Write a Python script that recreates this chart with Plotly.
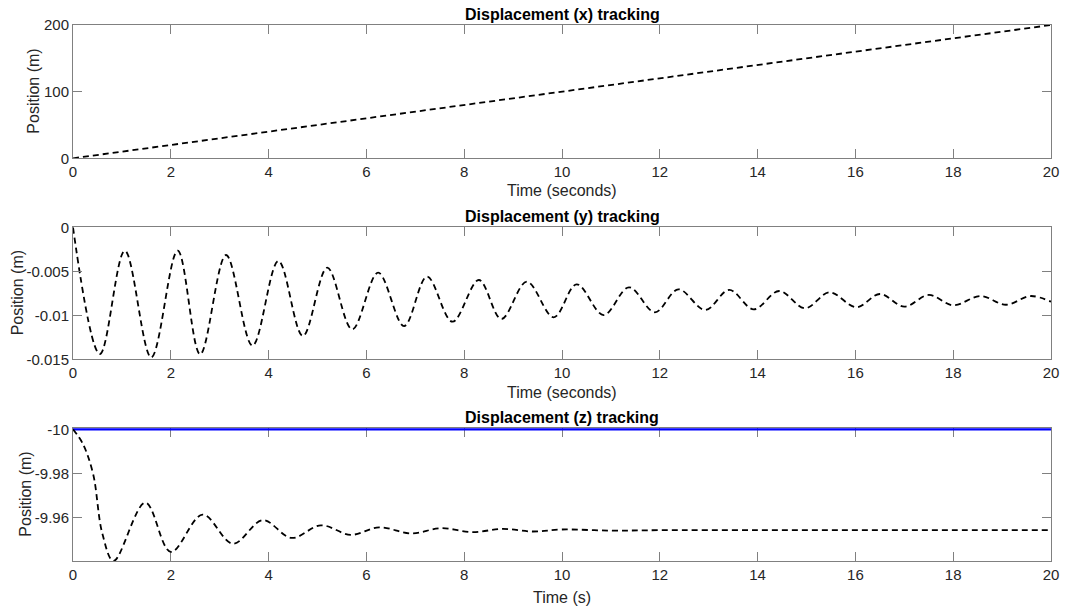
import plotly.graph_objects as go

# ---- data ----
# x displacement: straight ramp
x_time = [0, 20]
x_pos = [0, 200]

# y displacement: damped oscillation (start, extrema, end)
y_time = [0, 0.55, 1.06, 1.6, 2.14, 2.6, 3.13, 3.67, 4.2, 4.7, 5.2, 5.71,
          6.24, 6.77, 7.24, 7.76, 8.3, 8.76, 9.28, 9.83, 10.3, 10.85, 11.37,
          11.9, 12.38, 12.93, 13.42, 13.92, 14.44, 14.97, 15.47, 16.02, 16.5,
          17.0, 17.5, 18.0, 18.56, 19.08, 19.58, 20]
y_pos = [0, -0.0144, -0.00266, -0.01478, -0.00266, -0.01443, -0.00315, -0.01345,
         -0.00383, -0.01235, -0.00459, -0.0116, -0.00516, -0.01122, -0.00561,
         -0.01073, -0.00599, -0.01042, -0.00618, -0.01023, -0.00648, -0.00997,
         -0.00682, -0.00966, -0.00705, -0.0094, -0.00711, -0.00932, -0.00724,
         -0.0092, -0.00739, -0.00909, -0.00758, -0.00902, -0.00769, -0.00886,
         -0.00781, -0.0088, -0.00781, -0.00845]

# z displacement: reference and response
z_ref_time = [0, 20]
z_ref_pos = [-10, -10]
z_time = [0, 0.2, 0.41, 0.6, 0.83, 1.48, 2.0, 2.65, 3.27, 3.88, 4.47, 5.07,
          5.68, 6.26, 6.92, 7.52, 8.18, 8.78, 9.39, 10.0, 11.0, 12.0, 14.0,
          16.0, 18.0, 20.0]
z_pos = [-10, -9.9935, -9.98, -9.953, -9.9406, -9.9669, -9.9447, -9.9615,
         -9.9484, -9.959, -9.951, -9.9567, -9.9524, -9.9558, -9.953, -9.9554,
         -9.9536, -9.9551, -9.9539, -9.9548, -9.9543, -9.9545, -9.9545,
         -9.9545, -9.9545, -9.9545]

x_ticks = list(range(0, 21, 2))

titles = ["Displacement (x) tracking", "Displacement (y) tracking",
          "Displacement (z) tracking"]
x_titles = ["Time (seconds)", "Time (seconds)", "Time (s)"]
y_title = "Position (m)"

# ---- figure ----
W, H = 1065, 610
ML, MR = 73, 14
PW = W - ML - MR
FONT = "Liberation Sans, Arial, sans-serif"
AX = "#808080"
TXT = "#262626"

# pixel extents of each panel (top, bottom)
panels = [(25, 158.3), (227.3, 359.3), (428.3, 561)]
doms = [[1 - b / H, 1 - t / H] for t, b in panels]
# pixel placement of the axis titles
ytitle_px = [34, 17, 26]
xtitle_py = [190, 392, 597]

dash_style = dict(color="black", width=1.8, dash="6px,4px")

fig = go.Figure()
fig.add_trace(go.Scatter(x=x_time, y=x_pos, mode="lines", line=dash_style,
                         xaxis="x", yaxis="y"))
fig.add_trace(go.Scatter(x=y_time, y=y_pos, mode="lines", line=dash_style,
                         line_shape="spline", xaxis="x2", yaxis="y2"))
fig.add_trace(go.Scatter(x=z_ref_time, y=z_ref_pos, mode="lines",
                         line=dict(color="#0000FF", width=2.5),
                         xaxis="x3", yaxis="y3"))
fig.add_trace(go.Scatter(x=z_time, y=z_pos, mode="lines", line=dash_style,
                         line_shape="spline", xaxis="x3", yaxis="y3"))

common_axis = dict(
    showline=True, linecolor=AX, linewidth=1, mirror="ticks",
    ticks="inside", ticklen=9, tickwidth=1, tickcolor=AX,
    showgrid=False, zeroline=False, automargin=False,
    tickfont=dict(family=FONT, size=15, color=TXT),
)
axis_title_font = dict(family=FONT, size=16, color=TXT)

# the z axis runs downward, with a sliver of headroom so the reference line shows
y_ranges = [[0, 200], [-0.015, 0], [-9.9406, -10.00045]]
y_tickvals = [[0, 100, 200], [-0.015, -0.01, -0.005, 0], [-10, -9.98, -9.96]]
y_ticktext = [["0", "100", "200"], ["-0.015", "-0.01", "-0.005", "0"],
              ["-10", "-9.98", "-9.96"]]

layout = dict(
    width=W, height=H, margin=dict(l=ML, r=MR, t=0, b=0),
    paper_bgcolor="white", plot_bgcolor="white", showlegend=False,
    annotations=[],
)
for i in range(3):
    sfx = "" if i == 0 else str(i + 1)
    layout["xaxis" + sfx] = dict(
        common_axis, domain=[0, 1], range=[0, 20], tickvals=x_ticks,
        anchor="y" + sfx,
    )
    layout["yaxis" + sfx] = dict(
        common_axis, domain=doms[i], range=y_ranges[i],
        tickvals=y_tickvals[i], ticktext=y_ticktext[i], anchor="x" + sfx,
    )
    # panel title
    layout["annotations"].append(dict(
        text="<b>" + titles[i] + "</b>", xref="paper", yref="paper",
        x=0.5, y=doms[i][1], xanchor="center", yanchor="bottom", yshift=0,
        showarrow=False, font=dict(family=FONT, size=16, color="black"),
    ))
    # x axis title
    layout["annotations"].append(dict(
        text=x_titles[i], xref="paper", yref="paper",
        x=0.5, y=1 - xtitle_py[i] / H, xanchor="center", yanchor="middle",
        showarrow=False, font=axis_title_font,
    ))
    # y axis title
    layout["annotations"].append(dict(
        text=y_title, xref="paper", yref="paper", textangle=-90,
        x=(ytitle_px[i] - ML) / PW, y=(doms[i][0] + doms[i][1]) / 2,
        xanchor="center", yanchor="middle",
        showarrow=False, font=axis_title_font,
    ))

fig.update_layout(**layout)
fig.update_yaxes(layer="below traces", selector=dict(anchor="x3"))
fig.update_xaxes(layer="below traces", selector=dict(anchor="y3"))
fig.write_html("out.html")
